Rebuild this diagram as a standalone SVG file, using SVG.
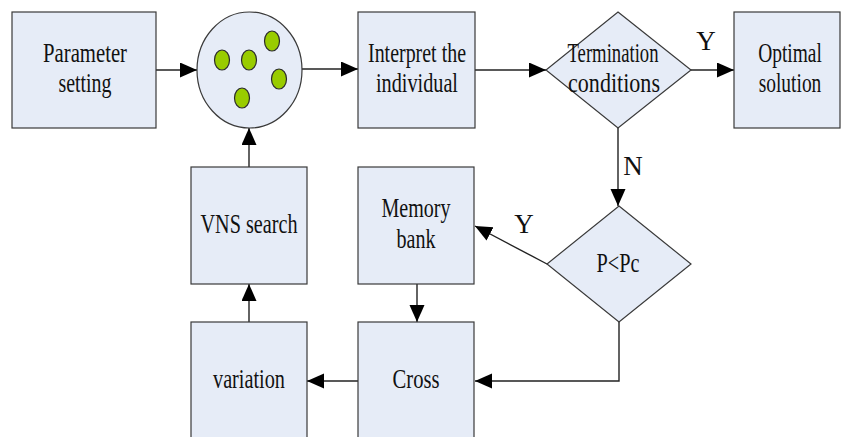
<svg xmlns="http://www.w3.org/2000/svg" width="842" height="437" viewBox="0 0 842 437">
<defs>
<style>
.box{fill:#e6ecf7;stroke:#3a3a3a;stroke-width:1.2}
.dot{fill:#99cc00;stroke:#2a2a2a;stroke-width:1.2}
.t{font-family:"Liberation Serif","Times New Roman",serif;font-size:27px;fill:#111;text-anchor:middle}
.c{fill:none;stroke:#222;stroke-width:1.4}
</style>
<marker id="ah" markerUnits="userSpaceOnUse" markerWidth="18" markerHeight="16" refX="17" refY="7.5" orient="auto">
<path d="M0,0 L17,7.5 L0,15 Z" fill="#000"/>
</marker>
</defs>
<rect width="842" height="437" fill="#fff"/>
<g id="connectors">
<line class="c" x1="156" y1="70" x2="197" y2="70" marker-end="url(#ah)"/>
<line class="c" x1="302" y1="69" x2="358" y2="69" marker-end="url(#ah)"/>
<line class="c" x1="475" y1="70" x2="546" y2="70" marker-end="url(#ah)"/>
<line class="c" x1="691" y1="70" x2="734" y2="70" marker-end="url(#ah)"/>
<line class="c" x1="618" y1="128" x2="618" y2="206" marker-end="url(#ah)"/>
<line class="c" x1="547" y1="264" x2="475" y2="226" marker-end="url(#ah)"/>
<line class="c" x1="417" y1="284" x2="417" y2="322" marker-end="url(#ah)"/>
<polyline class="c" points="619,322 619,381 475,381" marker-end="url(#ah)"/>
<line class="c" x1="358" y1="381" x2="307" y2="381" marker-end="url(#ah)"/>
<line class="c" x1="249" y1="322" x2="249" y2="284" marker-end="url(#ah)"/>
<line class="c" x1="249" y1="167" x2="249" y2="128" marker-end="url(#ah)"/>
<text class="t" x="706" y="50">Y</text>
<text class="t" x="633" y="175">N</text>
<text class="t" x="524" y="233">Y</text>
</g>
<g id="param">
<rect class="box" x="12" y="12" width="144" height="116"/>
<text class="t" x="85" y="62" textLength="84" lengthAdjust="spacingAndGlyphs">Parameter</text>
<text class="t" x="85" y="92" textLength="53" lengthAdjust="spacingAndGlyphs">setting</text>
</g>
<g id="population">
<ellipse class="box" cx="249.5" cy="70" rx="52.5" ry="58"/>
<ellipse class="dot" cx="222" cy="60" rx="7.5" ry="10"/>
<ellipse class="dot" cx="249" cy="60" rx="7.5" ry="10"/>
<ellipse class="dot" cx="272" cy="41" rx="7.5" ry="10"/>
<ellipse class="dot" cx="279" cy="79" rx="7.5" ry="10"/>
<ellipse class="dot" cx="242" cy="98" rx="7.5" ry="10"/>
</g>
<g id="interpret">
<rect class="box" x="358" y="12" width="117" height="116"/>
<text class="t" x="417" y="62" textLength="98" lengthAdjust="spacingAndGlyphs">Interpret the</text>
<text class="t" x="417" y="92" textLength="82" lengthAdjust="spacingAndGlyphs">individual</text>
</g>
<g id="termination">
<polygon class="box" points="618,12 691,70 618,128 546,70"/>
<text class="t" x="613" y="62" textLength="91" lengthAdjust="spacingAndGlyphs">Termination</text>
<text class="t" x="614" y="92" textLength="92" lengthAdjust="spacingAndGlyphs">conditions</text>
</g>
<g id="optimal">
<rect class="box" x="734" y="12" width="106" height="116"/>
<text class="t" transform="translate(790,62) scale(0.72,1)" x="0" y="0">Optimal</text>
<text class="t" transform="translate(790,92) scale(0.72,1)" x="0" y="0">solution</text>
</g>
<g id="ppc">
<polygon class="box" points="619,206 691,264 619,322 547,264"/>
<text class="t" x="618" y="272" textLength="43" lengthAdjust="spacingAndGlyphs">P&lt;Pc</text>
</g>
<g id="memory">
<rect class="box" x="358" y="167" width="116" height="117"/>
<text class="t" x="416" y="217" textLength="69" lengthAdjust="spacingAndGlyphs">Memory</text>
<text class="t" x="416" y="248" textLength="39" lengthAdjust="spacingAndGlyphs">bank</text>
</g>
<g id="cross">
<rect class="box" x="358" y="322" width="116" height="125"/>
<text class="t" x="416" y="388" textLength="47" lengthAdjust="spacingAndGlyphs">Cross</text>
</g>
<g id="vns">
<rect class="box" x="191" y="167" width="116" height="117"/>
<text class="t" x="249" y="233" textLength="97" lengthAdjust="spacingAndGlyphs">VNS search</text>
</g>
<g id="variation">
<rect class="box" x="191" y="322" width="116" height="125"/>
<text class="t" x="249" y="388" textLength="72" lengthAdjust="spacingAndGlyphs">variation</text>
</g>
</svg>
